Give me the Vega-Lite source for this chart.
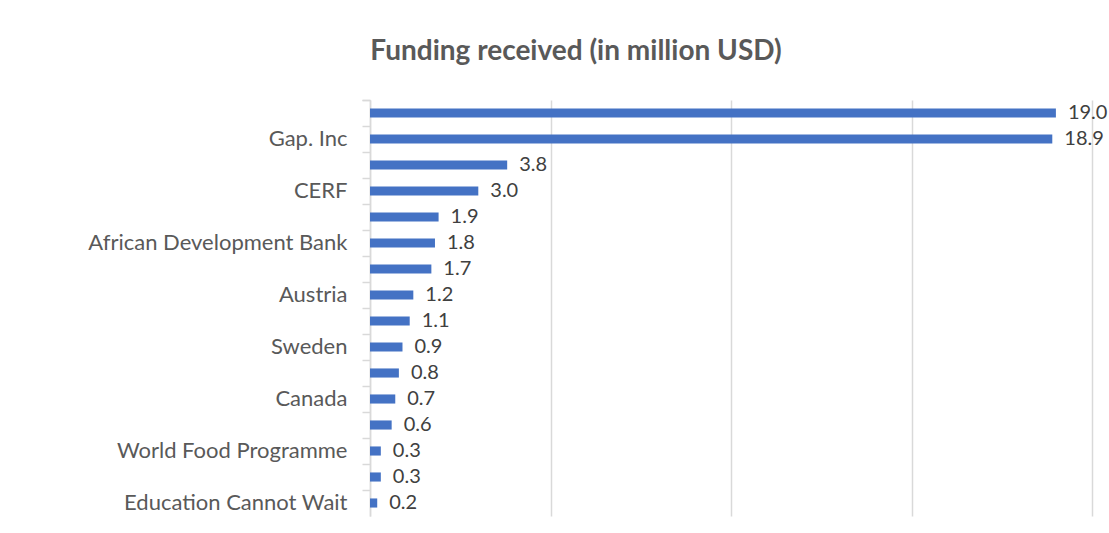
{
  "$schema": "https://vega.github.io/schema/vega-lite/v6.json",
  "width": 722,
  "height": 416,
  "autosize": {"type": "none"},
  "padding": {"left": 370, "top": 100, "right": 17, "bottom": 17},
  "background": "white",
  "title": {
    "text": "Funding received (in million USD)",
    "font": "Lato",
    "fontSize": 28,
    "fontWeight": "bold",
    "color": "#595959",
    "anchor": "middle",
    "dx": -155,
    "offset": 23
  },
  "data": {
    "values": [
      {"donor": "(unlabelled 1)", "funding": 19.0},
      {"donor": "Gap. Inc", "funding": 18.9},
      {"donor": "(unlabelled 2)", "funding": 3.8},
      {"donor": "CERF", "funding": 3.0},
      {"donor": "(unlabelled 3)", "funding": 1.9},
      {"donor": "African Development Bank", "funding": 1.8},
      {"donor": "(unlabelled 4)", "funding": 1.7},
      {"donor": "Austria", "funding": 1.2},
      {"donor": "(unlabelled 5)", "funding": 1.1},
      {"donor": "Sweden", "funding": 0.9},
      {"donor": "(unlabelled 6)", "funding": 0.8},
      {"donor": "Canada", "funding": 0.7},
      {"donor": "(unlabelled 7)", "funding": 0.6},
      {"donor": "World Food Programme", "funding": 0.3},
      {"donor": "(unlabelled 8)", "funding": 0.3},
      {"donor": "Education Cannot Wait", "funding": 0.2}
    ]
  },
  "encoding": {
    "y": {
      "field": "donor",
      "type": "nominal",
      "sort": null,
      "scale": {"paddingInner": 0, "paddingOuter": 0},
      "axis": {
        "title": null,
        "labelExpr": "indexof(datum.label, '(unlabelled') == 0 ? '' : datum.label",
        "labelFont": "Lato",
        "labelFontSize": 22,
        "labelColor": "#595959",
        "labelPadding": 15,
        "labelLimit": 400,
        "bandPosition": 0,
        "tickExtra": true,
        "tickSize": 8,
        "tickColor": "#D9D9D9",
        "tickWidth": 1.5,
        "domainColor": "#D9D9D9",
        "domainWidth": 1.5,
        "grid": false
      }
    },
    "x": {
      "field": "funding",
      "type": "quantitative",
      "scale": {"domain": [0, 20], "nice": false},
      "axis": {
        "title": null,
        "labels": false,
        "ticks": false,
        "domain": false,
        "values": [0, 5, 10, 15, 20],
        "grid": true,
        "gridColor": "#D9D9D9",
        "gridWidth": 1.5
      }
    }
  },
  "layer": [
    {
      "mark": {"type": "bar", "color": "#4472C4", "height": {"band": 0.35}}
    },
    {
      "mark": {
        "type": "text",
        "align": "left",
        "baseline": "middle",
        "dx": 12,
        "font": "Lato",
        "fontSize": 20,
        "color": "#404040"
      },
      "encoding": {
        "text": {"field": "funding", "type": "quantitative", "format": ".1f"}
      }
    }
  ],
  "config": {"view": {"stroke": null}}
}
